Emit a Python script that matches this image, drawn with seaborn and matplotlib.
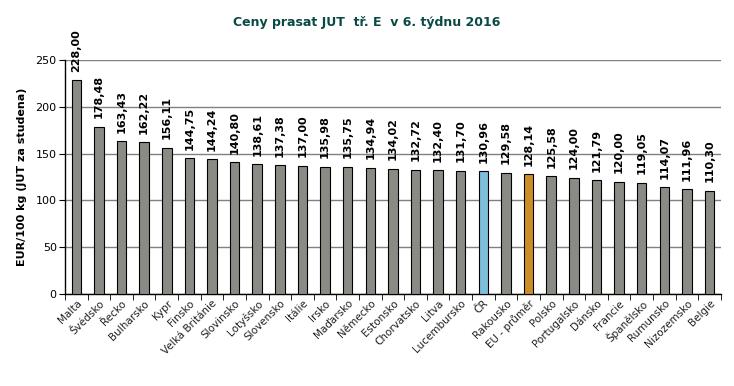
import numpy as np
import pandas as pd
import seaborn as sns
import matplotlib.pyplot as plt
from matplotlib.ticker import FixedLocator

countries = ["Malta", "Švédsko", "Řecko", "Bulharsko", "Kypr", "Finsko", "Velká Británie",
             "Slovinsko", "Lotyšsko", "Slovensko", "Itálie", "Irsko", "Maďarsko", "Německo",
             "Estonsko", "Chorvatsko", "Litva", "Lucembursko", "ČR", "Rakousko", "EU - průměr",
             "Polsko", "Portugalsko", "Dánsko", "Francie", "Španělsko", "Rumunsko",
             "Nizozemsko", "Belgie"]
prices = [228.00, 178.48, 163.43, 162.22, 156.11, 144.75, 144.24, 140.80, 138.61, 137.38,
          137.00, 135.98, 135.75, 134.94, 134.02, 132.72, 132.40, 131.70, 130.96, 129.58,
          128.14, 125.58, 124.00, 121.79, 120.00, 119.05, 114.07, 111.96, 110.30]

gray = "#8c8c84"
colors = {"ČR": "#6cc4ec", "EU - průměr": "#e8940c"}

df = pd.DataFrame({"country": countries, "price": prices})
palette = [colors.get(c, gray) for c in countries]

sns.set_style("white")
plt.rcParams['font.family'] = ['DejaVu Sans']

fig = plt.figure(figsize=(7.34, 3.86), dpi=100)
ax = fig.add_axes([0.0886, 0.238, 0.8934, 0.607])

sns.barplot(data=df, x="country", y="price", hue="country", palette=palette,
            legend=False, width=0.42, edgecolor="black", linewidth=0.8, ax=ax, zorder=3)

ax.set_ylim(0, 250)
ax.set_xlim(-0.5, len(countries) - 0.5)
ax.set_yticks(np.arange(0, 251, 50))
ax.yaxis.grid(True, color="#808080", linewidth=1, zorder=0)
ax.tick_params(axis="y", labelsize=8, length=4, color="black", direction="out", left=True,
               pad=2, labelcolor="black")
ax.tick_params(axis="x", which="major", length=0, labelsize=7.5, pad=3, labelcolor="#202020")
ax.xaxis.set_minor_locator(FixedLocator(np.arange(-0.5, len(countries), 1)))
ax.tick_params(axis="x", which="minor", length=4, color="black", direction="out", bottom=True)
plt.setp(ax.get_xticklabels(), rotation=45, ha="right", rotation_mode="anchor")

for s in ["top", "right"]:
    ax.spines[s].set_visible(False)
for s in ["left", "bottom"]:
    ax.spines[s].set_color("black")
    ax.spines[s].set_linewidth(1)

# popisky hodnot s desetinnou carkou
for i, v in enumerate(prices):
    ax.text(i, v + 9, f"{v:.2f}".replace(".", ","), rotation=90, ha="center", va="bottom",
            fontsize=8, fontweight="bold", color="black", clip_on=False)

ax.set_xlabel("")
ax.set_ylabel("EUR/100 kg (JUT za studena)", fontsize=8, fontweight="bold", labelpad=6,
              color="black")
fig.text(0.5, 0.943, "Ceny prasat JUT  tř. E  v 6. týdnu 2016", ha="center", va="center",
         fontsize=9, fontweight="bold", color="#0a4a44")

fig.savefig("out.png", dpi=100)
